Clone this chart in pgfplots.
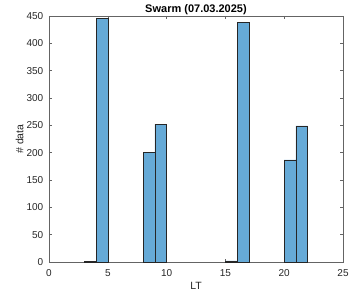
\documentclass[border=0pt]{standalone}
\usepackage{pgfplots}
\pgfplotsset{compat=1.18}
\usepackage{fontspec}
\setmainfont{Liberation Sans}
\definecolor{axgray}{RGB}{38,38,38}
\definecolor{axline}{RGB}{100,100,100}
\definecolor{barfill}{RGB}{102,170,215}
\begin{document}
\begin{tikzpicture}
\begin{axis}[
  scale only axis,
  width=294pt, height=246pt,
  xmin=0, xmax=25, ymin=0, ymax=450,
  xtick={0,5,...,25}, ytick={0,50,...,450},
  tick align=inside,
  major tick length=3pt,
  axis line style={axline, line width=0.5pt},
  tick style={axline, line width=0.5pt},
  every tick label/.append style={font=\fontsize{10}{12}\selectfont, text=axgray},
  /pgf/number format/assume math mode=true,
  yticklabel style={inner sep=0pt, anchor=east, xshift=-5.5pt},
  xticklabel style={inner sep=0pt, anchor=north, yshift=-7.3pt},
  every axis title shift=0pt,
  title={\textbf{Swarm (07.03.2025)}},
  title style={font=\fontsize{11}{13}\selectfont, at={(axis description cs:0.5,1)}, anchor=base, inner sep=0pt, yshift=3.3pt},
  xlabel={LT}, ylabel={\# data},
  xlabel style={font=\fontsize{10.5}{12}\selectfont, text=axgray, at={(axis description cs:0.5,0)}, anchor=center, inner sep=0pt, yshift=-24pt},
  ylabel style={font=\fontsize{10.5}{12}\selectfont, text=axgray, at={(axis description cs:-0.0997,0.5)}, anchor=center, inner sep=0pt},
]
\addplot[ybar, bar width=1, bar shift=0pt, fill=barfill, draw=black!85, line width=0.5pt]
coordinates {(3.5,1) (4.5,446) (8.5,200) (9.5,252) (15.5,2) (16.5,439) (20.5,187) (21.5,249)};
\end{axis}
\pgfresetboundingbox
\path (current axis.south west) ++(-49pt,-32pt) rectangle ([shift={(7pt,16pt)}]current axis.north east);
\end{tikzpicture}
\end{document}
